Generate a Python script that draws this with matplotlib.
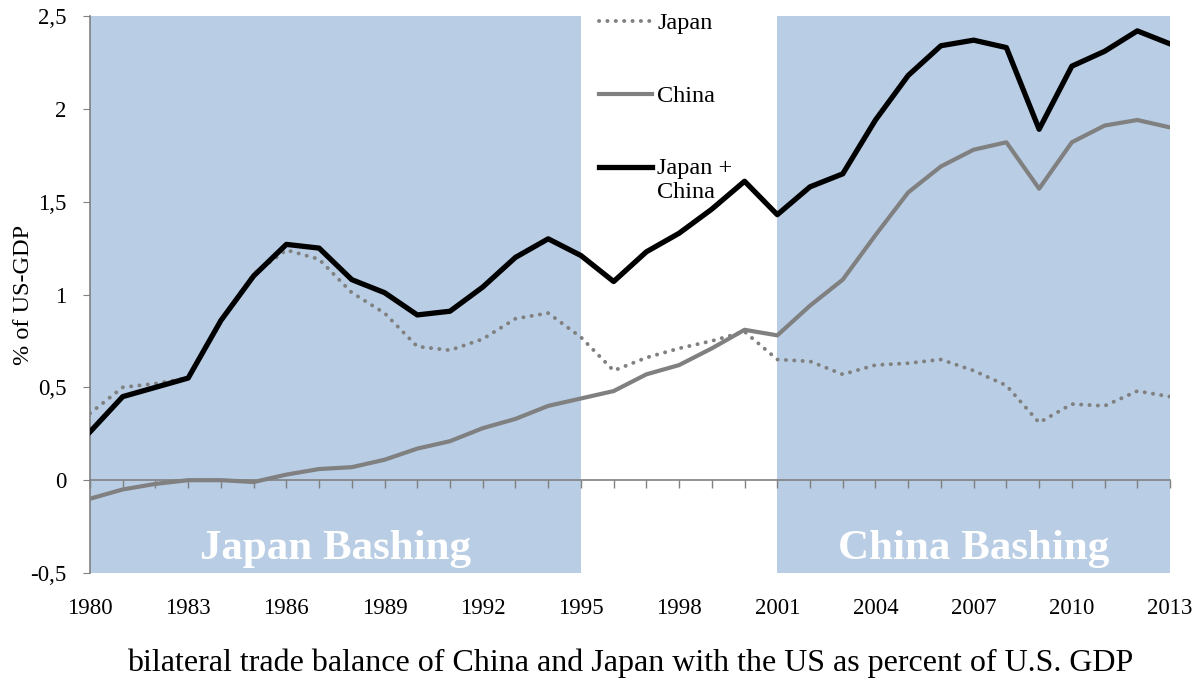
import matplotlib.pyplot as plt
from matplotlib.ticker import FuncFormatter, MultipleLocator
from matplotlib.legend_handler import HandlerLine2D

plt.rcParams['font.family'] = ['Liberation Serif', 'DejaVu Serif']

years = list(range(1980, 2014))

japan = [0.36, 0.50, 0.52, 0.55, 0.86, 1.11, 1.24, 1.19, 1.01, 0.90,
         0.72, 0.70, 0.76, 0.87, 0.90, 0.77, 0.59, 0.66, 0.71, 0.75,
         0.80, 0.65, 0.64, 0.57, 0.62, 0.63, 0.65, 0.59, 0.51, 0.31,
         0.41, 0.40, 0.48, 0.45]

china = [-0.10, -0.05, -0.02, 0.00, 0.00, -0.01, 0.03, 0.06, 0.07, 0.11,
         0.17, 0.21, 0.28, 0.33, 0.40, 0.44, 0.48, 0.57, 0.62, 0.71,
         0.81, 0.78, 0.94, 1.08, 1.32, 1.55, 1.69, 1.78, 1.82, 1.57,
         1.82, 1.91, 1.94, 1.90]

total = [0.26, 0.45, 0.50, 0.55, 0.86, 1.10, 1.27, 1.25, 1.08, 1.01,
         0.89, 0.91, 1.04, 1.20, 1.30, 1.21, 1.07, 1.23, 1.33, 1.46,
         1.61, 1.43, 1.58, 1.65, 1.94, 2.18, 2.34, 2.37, 2.33, 1.89,
         2.23, 2.31, 2.42, 2.35]

periods = [(1980, 1995, 'Japan Bashing'), (2001, 2013, 'China Bashing')]

grey = '#808080'
shade = '#B9CDE5'


class TopLineHandler(HandlerLine2D):
    # put the handle next to the first line of a two-line label
    def create_artists(self, legend, orig_handle, xdescent, ydescent,
                       width, height, fontsize, trans):
        arts = super().create_artists(legend, orig_handle, xdescent, ydescent,
                                      width, height, fontsize, trans)
        for a in arts:
            a.set_ydata([y + 0.55 * fontsize for y in a.get_ydata()])
        return arts


fig = plt.figure(figsize=(12.03, 6.85), dpi=100)
ax = fig.add_axes([0.0748, 0.1635, 0.8978, 0.8131])

for start, end, label in periods:
    ax.axvspan(start, end, color=shade, lw=0, zorder=0)
    ax.text((start + end) / 2, -0.37, label, color='white', fontsize=31,
            fontweight='bold', ha='center', va='center', zorder=1)

ax.plot(years, japan, color=grey, lw=2.8, linestyle=(0, (0.05, 2.1)),
        dash_capstyle='round', solid_capstyle='round', label='Japan', zorder=3)
ax.plot(years, china, color=grey, lw=3, label='China', zorder=3)
line_total, = ax.plot(years, total, color='black', lw=3.8, label='Japan +\nChina', zorder=4)

ax.set_xlim(1980, 2013)
ax.set_ylim(-0.5, 2.5)

# zero line with yearly ticks
zero = ax.secondary_xaxis(1 / 6)
zero.set_xticks(years)
zero.tick_params(axis='x', direction='out', length=6, color=grey,
                 labelbottom=False, width=1)
zero.spines['bottom'].set_color(grey)
zero.spines['bottom'].set_linewidth(1.2)

ax.set_xticks(range(1980, 2014, 3))
ax.tick_params(axis='x', length=0, pad=18, labelsize=16.5)
ax.yaxis.set_major_locator(MultipleLocator(0.5))
ax.yaxis.set_major_formatter(FuncFormatter(lambda v, p: ('%g' % v).replace('.', ',')))
ax.tick_params(axis='y', direction='out', length=5, color=grey, labelsize=16.5, pad=12)

for side in ['top', 'right', 'bottom']:
    ax.spines[side].set_visible(False)
ax.spines['left'].set_color(grey)
ax.spines['left'].set_linewidth(1.2)

ax.set_ylabel('% of US-GDP', fontsize=17.5, labelpad=-3)
ax.set_xlabel('bilateral trade balance of China and Japan with the US as percent of U.S. GDP',
              fontsize=23, labelpad=21)

leg = ax.legend(loc='upper left', bbox_to_anchor=(0.462, 1.024), frameon=False,
                borderaxespad=0, fontsize=17.5, handlelength=2.2, handletextpad=0.2,
                labelspacing=2.1, handler_map={line_total: TopLineHandler()})
for t in leg.get_texts():
    t.set_linespacing(1.15)

fig.savefig('out.png', dpi=100)
